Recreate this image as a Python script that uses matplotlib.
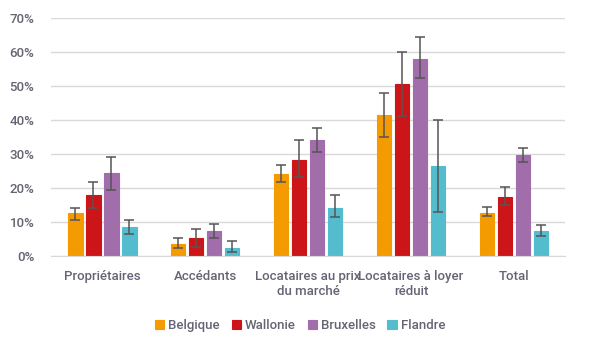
import matplotlib.pyplot as plt
import numpy as np
from matplotlib.ticker import PercentFormatter

categories = ["Propriétaires", "Accédants", "Locataires au prix\ndu marché",
              "Locataires à loyer\nréduit", "Total"]
regions = ["Belgique", "Wallonie", "Bruxelles", "Flandre"]
colors = ["#F39B00", "#CC1519", "#A26DAB", "#53BDCE"]

# share (%) per region, with lower/upper bounds of the confidence interval
belgique = [12.6, 3.6, 24.3, 41.5, 12.8]
belgique_lo = [10.6, 2.4, 21.7, 35.0, 11.7]
belgique_hi = [14.2, 5.3, 26.8, 48.1, 14.6]

wallonie = [17.9, 5.4, 28.4, 50.7, 17.5]
wallonie_lo = [14.2, 2.8, 23.3, 41.3, 15.0]
wallonie_hi = [21.7, 8.1, 34.1, 60.1, 20.4]

bruxelles = [24.4, 7.5, 34.3, 58.1, 29.7]
bruxelles_lo = [19.6, 5.3, 30.6, 52.4, 27.7]
bruxelles_hi = [29.2, 9.6, 37.7, 64.5, 31.7]

flandre = [8.6, 2.5, 14.3, 26.5, 7.5]
flandre_lo = [6.5, 1.2, 11.4, 13.1, 6.0]
flandre_hi = [10.6, 4.5, 17.9, 40.0, 9.3]

series = [
    (belgique, belgique_lo, belgique_hi),
    (wallonie, wallonie_lo, wallonie_hi),
    (bruxelles, bruxelles_lo, bruxelles_hi),
    (flandre, flandre_lo, flandre_hi),
]

plt.rcParams["font.family"] = ["Roboto", "DejaVu Sans"]
text_color = "#646474"
font_size = 9.5

fig = plt.figure(figsize=(6, 3.49), dpi=100)
ax = fig.add_axes([0.085, 0.266, 0.857, 0.682])

x = np.arange(len(categories))
pitch = 0.175
width = 0.14
for idx, (name, color, (vals, lo, hi)) in enumerate(zip(regions, colors, series)):
    vals = np.array(vals)
    err = [vals - np.array(lo), np.array(hi) - vals]
    pos = x + (idx - 1.5) * pitch
    ax.bar(pos, vals, width, color=color, edgecolor=color, linewidth=0.8,
           label=name, zorder=2)
    ax.errorbar(pos, vals, yerr=err, fmt="none", ecolor="#555555",
                elinewidth=1.1, capsize=3.5, capthick=1.1, zorder=3)

ax.set_xlim(-0.5, len(categories) - 0.5)
ax.set_ylim(0, 70)
ax.set_yticks(np.arange(0, 71, 10))
ax.yaxis.set_major_formatter(PercentFormatter(decimals=0))
ax.set_xticks(x)
ax.set_xticklabels(categories)
ax.grid(axis="y", color="#D9D9D9", linewidth=1, zorder=0)
for side in ["top", "right", "left"]:
    ax.spines[side].set_visible(False)
ax.spines["bottom"].set_color("#D9D9D9")
ax.tick_params(axis="both", length=0, colors=text_color, labelsize=font_size)
ax.tick_params(axis="y", pad=12)
ax.tick_params(axis="x", pad=10)
for lab in ax.get_xticklabels() + ax.get_yticklabels():
    lab.set_fontweight("medium")
    lab.set_color(text_color)

leg = fig.legend(loc="center", bbox_to_anchor=(0.5, 0.068), ncol=4, frameon=False,
                 handlelength=0.7, handleheight=0.7, handletextpad=0.3,
                 columnspacing=0.9, prop={"size": font_size, "weight": "medium"})
for t in leg.get_texts():
    t.set_color(text_color)

fig.savefig("out.png", dpi=100)
